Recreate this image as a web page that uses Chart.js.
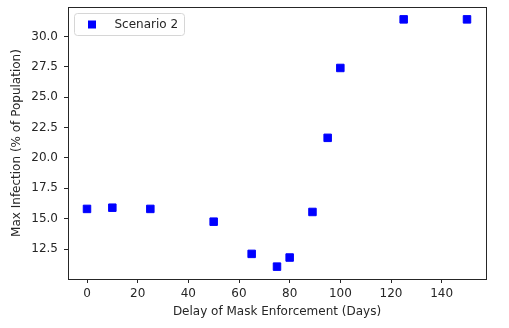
<!DOCTYPE html>
<html>
<head>
<meta charset="utf-8">
<script src="https://cdn.jsdelivr.net/npm/chart.js@4"></script>
<style>
  body { margin: 0; background: #fff; }
  #wrap { width: 509px; height: 328px; }
</style>
</head>
<body>
<div id="wrap"><canvas id="maskChart" width="509" height="328"></canvas></div>
<script>
// data
const delayDays = [0, 10, 25, 50, 65, 75, 80, 89, 95, 100, 125, 150];
const maxInfection = [15.8, 15.9, 15.8, 14.75, 12.1, 11.05, 11.8, 15.55, 21.65, 27.4, 31.4, 31.4];
const xTicks = [0, 20, 40, 60, 80, 100, 120, 140];
const yTicks = [12.5, 15.0, 17.5, 20.0, 22.5, 25.0, 27.5, 30.0];
const seriesLabel = 'Scenario 2';

const ink = '#262626';
const fontFamily = '"DejaVu Sans", sans-serif';

// matplotlib style 5% margins around the data
function padRange(values) {
    const lo = Math.min(...values), hi = Math.max(...values);
    const m = (hi - lo) * 0.05;
    return [lo - m, hi + m];
}
const [xMin, xMax] = padRange(delayDays);
const [yMin, yMax] = padRange(maxInfection);

// box around the plot area
const frame = {
    id: 'frame',
    afterDraw(chart) {
        const a = chart.chartArea, ctx = chart.ctx;
        ctx.save();
        ctx.strokeStyle = ink;
        ctx.lineWidth = 1;
        ctx.strokeRect(Math.round(a.left) + 0.5, Math.round(a.top) + 0.5,
            Math.round(a.right - a.left), Math.round(a.bottom - a.top));
        ctx.restore();
    }
};

// legend box in the upper left corner of the plot
const innerLegend = {
    id: 'innerLegend',
    afterDraw(chart) {
        const a = chart.chartArea, ctx = chart.ctx;
        const ds = chart.data.datasets[0];
        const x = a.left + 6.5, y = a.top + 6.5, w = 110, h = 22, r = 3;
        ctx.save();
        ctx.beginPath();
        ctx.roundRect(x, y, w, h, r);
        ctx.fillStyle = 'rgba(255,255,255,0.8)';
        ctx.fill();
        ctx.strokeStyle = '#d6d6d6';
        ctx.lineWidth = 1;
        ctx.stroke();
        ctx.fillStyle = ds.backgroundColor;
        ctx.fillRect(x + 13.5, y + 7, 8, 8);
        ctx.fillStyle = ink;
        ctx.font = '12px ' + fontFamily;
        ctx.textBaseline = 'middle';
        ctx.fillText(ds.label, x + 40, y + h / 2 + 0.5);
        ctx.restore();
    }
};

new Chart(document.getElementById('maskChart'), {
    type: 'scatter',
    data: {
        datasets: [{
            label: seriesLabel,
            data: delayDays.map((d, i) => ({ x: d, y: maxInfection[i] })),
            pointStyle: 'rect',
            pointRadius: 5.3,
            pointHoverRadius: 5.3,
            borderWidth: 1,
            backgroundColor: '#0000ff',
            borderColor: '#0000ff'
        }]
    },
    options: {
        responsive: false,
        animation: false,
        devicePixelRatio: 1,
        layout: { padding: { left: 0, right: 23, top: 7, bottom: 0 } },
        plugins: {
            legend: { display: false },
            tooltip: { enabled: false }
        },
        scales: {
            x: {
                type: 'linear',
                min: xMin,
                max: xMax,
                afterBuildTicks: s => { s.ticks = xTicks.map(v => ({ value: v })); },
                afterFit: s => { s.height = 49; s.paddingLeft = 0; s.paddingRight = 0; },
                border: { display: false },
                grid: { drawOnChartArea: false, drawTicks: true, tickLength: 4, color: ink, lineWidth: 1 },
                ticks: {
                    color: ink,
                    font: { family: fontFamily, size: 12 },
                    padding: 4,
                    maxRotation: 0,
                    callback: v => String(v)
                },
                title: {
                    display: true,
                    text: 'Delay of Mask Enforcement (Days)',
                    color: ink,
                    font: { family: fontFamily, size: 12 },
                    padding: { top: 0, bottom: 9 }
                }
            },
            y: {
                type: 'linear',
                min: yMin,
                max: yMax,
                afterBuildTicks: s => { s.ticks = yTicks.map(v => ({ value: v })); },
                afterFit: s => { s.width = 68; s.paddingTop = 0; s.paddingBottom = 0; },
                border: { display: false },
                grid: { drawOnChartArea: false, drawTicks: true, tickLength: 4, color: ink, lineWidth: 1 },
                ticks: {
                    color: ink,
                    font: { family: fontFamily, size: 12 },
                    padding: 6,
                    callback: v => v.toFixed(1)
                },
                title: {
                    display: true,
                    text: 'Max Infection (% of Population)',
                    color: ink,
                    font: { family: fontFamily, size: 12 },
                    padding: { top: 10, bottom: 0 }
                }
            }
        }
    },
    plugins: [frame, innerLegend]
});
</script>
</body>
</html>
